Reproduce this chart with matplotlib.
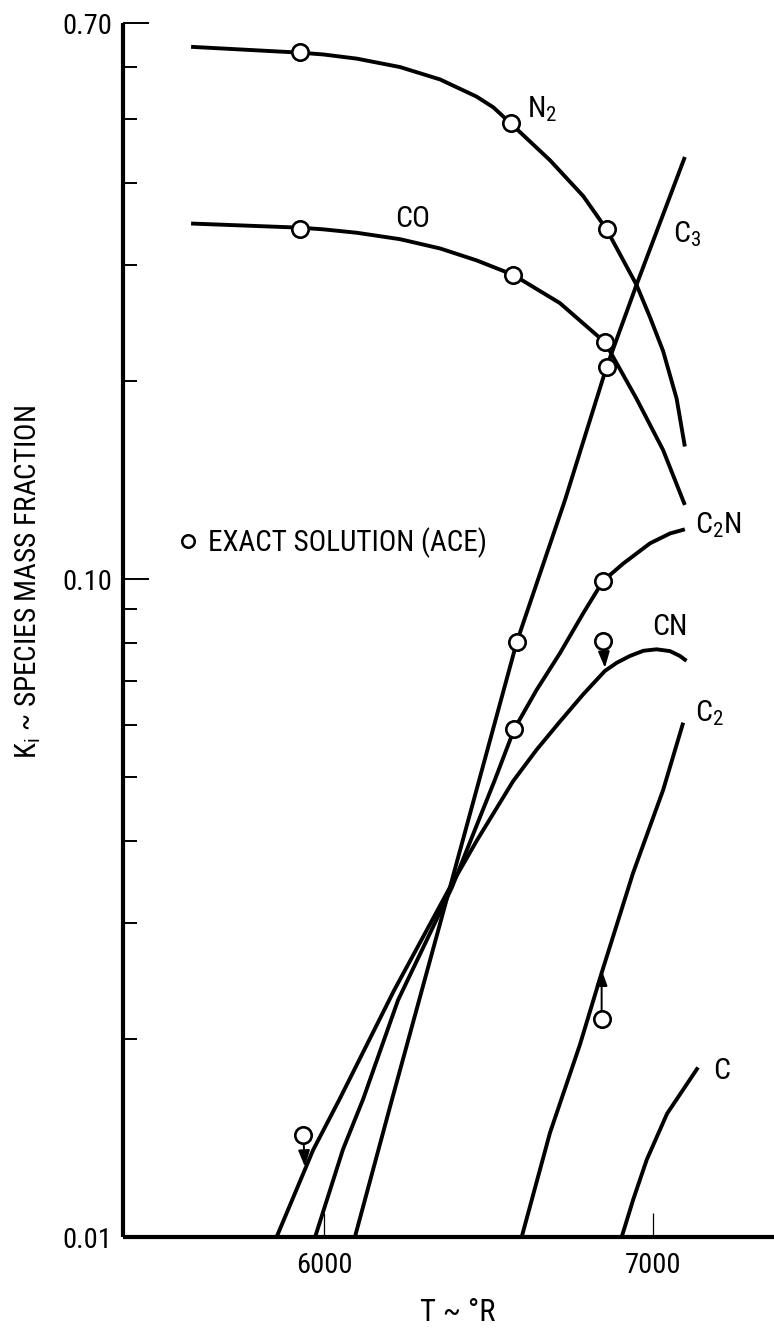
import matplotlib
matplotlib.use("Agg")
import matplotlib.pyplot as plt
from matplotlib.lines import Line2D
from matplotlib.ticker import FixedLocator, NullFormatter, FixedFormatter

FONT = ['Roboto Condensed', 'DejaVu Sans']
plt.rcParams['font.family'] = FONT
plt.rcParams['mathtext.fontset'] = 'custom'
plt.rcParams['mathtext.rm'] = 'Roboto Condensed'
plt.rcParams['mathtext.it'] = 'Roboto Condensed'
plt.rcParams['mathtext.bf'] = 'Roboto Condensed'
plt.rcParams['mathtext.default'] = 'rm'

# ---------------- data ----------------
N2_T = [5596, 5927, 5998, 6099, 6231, 6353, 6464, 6515, 6565, 6687, 6788,
        6859, 6950, 6991, 7031, 7072, 7097]
N2_K = [0.644, 0.631, 0.627, 0.618, 0.600, 0.5745, 0.541, 0.521, 0.494, 0.433, 0.382,
        0.340, 0.280, 0.250, 0.222, 0.188, 0.159]

CO_T = [5596, 5927, 5998, 6099, 6231, 6353, 6464, 6575, 6717, 6854, 6950, 7031, 7097]
CO_K = [0.347, 0.342, 0.340, 0.336, 0.3285, 0.318, 0.305, 0.290, 0.2627, 0.229,
        0.188, 0.157, 0.1296]

C3_T = [6094, 6207, 6383, 6586, 6733, 6859, 6950, 7097]
C3_K = [0.0100, 0.0162, 0.0340, 0.0802, 0.132, 0.210, 0.280, 0.438]

C2N_T = [5973, 6058, 6119, 6225, 6389, 6520, 6578, 6646, 6717, 6788, 6848,
         6910, 6991, 7052, 7097]
C2N_K = [0.0100, 0.0136, 0.0162, 0.0229, 0.0340, 0.0496, 0.0591, 0.0678, 0.0771,
         0.0887, 0.0993, 0.1056, 0.1133, 0.1173, 0.1190]

CN_T = [5856, 5967, 6046, 6213, 6383, 6464, 6575, 6646, 6717, 6788, 6854, 6890,
        6930, 6971, 7011, 7052, 7082, 7102]
CN_K = [0.0100, 0.01356, 0.01615, 0.0237, 0.0340, 0.0400, 0.0493, 0.0550, 0.0607,
        0.0668, 0.0725, 0.0746, 0.0764, 0.0778, 0.0782, 0.0777, 0.0764, 0.0751]

C2_T = [6601, 6687, 6778, 6844, 6940, 7031, 7092]
C2_K = [0.0100, 0.0144, 0.0196, 0.0252, 0.0358, 0.0478, 0.0605]

C_T = [6905, 6940, 6981, 7043, 7137]
C_K = [0.0100, 0.0114, 0.0131, 0.0154, 0.0181]

# exact solution (ACE) points
ACE_T = [5927, 6570, 6859, 5927, 6574, 6854, 6586, 6859, 6578, 6848, 6849, 5937, 6844]
ACE_K = [0.632, 0.494, 0.340, 0.341, 0.290, 0.229, 0.0802, 0.210, 0.0591, 0.0993,
         0.0805, 0.01429, 0.02143]

# arrows from ACE points to curves
ARROW_FROM_T = [6849, 5937, 6844]
ARROW_FROM_K = [0.0805, 0.01429, 0.02143]
ARROW_TO_T = [6854, 5942, 6844]
ARROW_TO_K = [0.0733, 0.01279, 0.0255]

species_labels = [r'N$_2$', 'CO', r'C$_3$', r'C$_2$N', 'CN', r'C$_2$', 'C']
label_T = [6617, 6216, 7061, 7128, 6997, 7128, 7183]
label_K = [0.5036, 0.343, 0.325, 0.1175, 0.0822, 0.0607, 0.01738]

x_ticks = [6000, 7000]
x_ticklabels = ['6000', '7000']
y_major = [0.01, 0.10, 0.70]
y_major_labels = ['0.01', '0.10', '0.70']
y_minor = [0.02, 0.03, 0.04, 0.05, 0.06, 0.07, 0.08, 0.09, 0.2, 0.3, 0.4, 0.5, 0.6]

# ---------------- figure ----------------
W, H = 774, 1328
fig = plt.figure(figsize=(W / 100, H / 100), dpi=100)
fig.patch.set_facecolor('white')
left, right, top, bottom = 123, 774, 23, 1237
ax = fig.add_axes([left / W, (H - bottom) / H, (right - left) / W, (bottom - top) / H])

LW = 2.8
for T, K in [(N2_T, N2_K), (CO_T, CO_K), (C3_T, C3_K), (C2N_T, C2N_K),
             (CN_T, CN_K), (C2_T, C2_K), (C_T, C_K)]:
    ax.plot(T, K, color='black', lw=LW, solid_capstyle='butt',
            solid_joinstyle='round', zorder=2)

ax.plot(ACE_T, ACE_K, ls='none', marker='o', ms=11.8, mew=1.9,
        mfc='white', mec='black', zorder=4)

for t0, k0, t1, k1 in zip(ARROW_FROM_T, ARROW_FROM_K, ARROW_TO_T, ARROW_TO_K):
    ax.annotate('', xy=(t1, k1), xytext=(t0, k0),
                arrowprops=dict(arrowstyle='-|>,head_length=0.7,head_width=0.25',
                                mutation_scale=14, lw=1.4, color='black',
                                shrinkA=6, shrinkB=0),
                zorder=3)

for s, t, k in zip(species_labels, label_T, label_K):
    ax.text(t, k, s, fontsize=21.5, ha='left', va='baseline', color='black')

ax.set_yscale('log')
ax.set_xlim(5389, 7368)
ax.set_ylim(0.01, 0.70)

ax.xaxis.set_major_locator(FixedLocator(x_ticks))
ax.xaxis.set_major_formatter(FixedFormatter(x_ticklabels))
ax.xaxis.set_minor_locator(FixedLocator([]))
ax.yaxis.set_major_locator(FixedLocator(y_major))
ax.yaxis.set_major_formatter(FixedFormatter(y_major_labels))
ax.yaxis.set_minor_locator(FixedLocator(y_minor))
ax.yaxis.set_minor_formatter(NullFormatter())

ax.tick_params(axis='x', which='major', direction='in', length=17, width=0.9,
               pad=11, labelsize=20.5)
ax.tick_params(axis='y', which='major', direction='in', length=19, width=1.4,
               pad=8, labelsize=20.5)
ax.tick_params(axis='y', which='minor', direction='in', length=10, width=1.4)

for sp in ['top', 'right']:
    ax.spines[sp].set_visible(False)
for sp in ['left', 'bottom']:
    ax.spines[sp].set_linewidth(3.0)
    ax.spines[sp].set_capstyle('butt')

ax.set_xlabel('T ~ °R', fontsize=22)
ax.xaxis.set_label_coords((458 - left) / (right - left), -0.050)
ax.set_ylabel(r'K$_\mathrm{i}$ ~ SPECIES MASS FRACTION', fontsize=21)
ax.yaxis.set_label_coords((43 - left) / (right - left), (bottom - 582) / (bottom - top))

handle = Line2D([], [], ls='none', marker='o', ms=9, mew=1.8, mfc='white', mec='black')
ax.legend([handle], ['EXACT SOLUTION (ACE)'], loc='center left',
          bbox_to_anchor=((176 - left) / (right - left), (bottom - 543) / (bottom - top)),
          frameon=False, borderpad=0, borderaxespad=0, handlelength=0.8,
          handletextpad=0.3, fontsize=21)

fig.savefig('out.png', dpi=100, facecolor='white')
